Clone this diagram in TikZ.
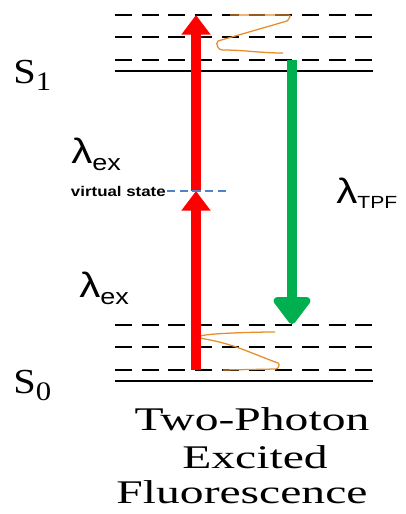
\documentclass[tikz,border=0pt]{standalone}
\usepackage{fontspec}
\setmainfont{Liberation Serif}
\newfontfamily\titlefont[FakeStretch=1.44]{Liberation Serif}
\newfontfamily\levelfont[FakeStretch=1.15]{Liberation Serif}
\newfontfamily\lamfont[FakeStretch=1.2]{Liberation Sans}
\usetikzlibrary{arrows.meta}

\begin{document}
\begin{tikzpicture}[x=0.025cm, y=-0.025cm,
    level/.style={line width=2pt, dash pattern=on 12pt off 7pt},
    ground/.style={line width=2pt},
    wave/.style={draw=wavecol, line width=0.9pt},
    pump/.style={draw=pumpcol, line width=7.1pt, -{Triangle[width=20pt,length=14pt]}},
    emit/.style={draw=emitcol, line width=7.1pt, -{Triangle[width=30pt,length=21pt,round]}}]

    % Definindo cores
    \definecolor{pumpcol}{RGB}{255, 0, 0}     % Vermelho das setas de excitacao
    \definecolor{emitcol}{RGB}{0, 176, 80}    % Verde da fluorescencia
    \definecolor{wavecol}{RGB}{230, 140, 40}  % Laranja da relaxacao
    \definecolor{virtcol}{RGB}{80, 130, 200}  % Azul do estado virtual

    \useasboundingbox (0,0) rectangle (406,514);

    % 1. Niveis de S1 (tracejados e linha cheia)
    \draw[level] (115,15) -- (373,15);
    \draw[level] (115,37) -- (373,37);
    \draw[level] (115,60) -- (373,60);
    \draw[ground] (115,71) -- (373,71);

    % 2. Niveis de S0
    \draw[level] (115,325) -- (373,325);
    \draw[level] (115,347) -- (373,347);
    \draw[level] (115,370) -- (373,370);
    \draw[ground] (115,381) -- (373,381);

    % 3. Relaxacao vibracional (linhas laranja)
    \draw[wave] (230,15) -- (289,15) to[out=0,in=40] (287,21)
        -- (218,41) to[out=220,in=180] (222,50)
        to[out=0,in=180] (283,53);
    \draw[wave] (275,332) to[out=180,in=170] (205,339)
        to[out=-10,in=160] (278,363) to[out=-20,in=0] (276,369) -- (223,370);

    % 4. Pontos das setas
    \coordinate (groundS0) at (196,370);
    \coordinate (virtual) at (196,191);
    \coordinate (topS1) at (196,15);
    \coordinate (lowS1) at (292,60);
    \coordinate (topS0) at (292,324);

    % 5. Setas de excitacao e emissao
    \draw[pump] (groundS0) -- (virtual);
    \draw[pump] (virtual) -- (topS1);
    \draw[emit] (lowS1) -- (topS0);

    % 6. Estado virtual
    \coordinate (vsleft) at (167,191);
    \coordinate (vsright) at (230,191);
    \draw[virtcol, line width=1pt, dash pattern=on 6pt off 3pt] (vsleft) -- (vsright);
    \node[anchor=base east, inner sep=0pt, font=\lamfont\bfseries\fontsize{10}{10}\selectfont]
        (vslabel) at (166,196) {virtual state};

    % 7. Rotulos dos estados
    \node[anchor=base west, inner sep=0pt, font=\levelfont\fontsize{25}{25}\selectfont]
        (s1) at (13,83) {S\raisebox{-5pt}{\fontsize{19}{19}\selectfont 1}};
    \node[anchor=base west, inner sep=0pt, font=\levelfont\fontsize{25}{25}\selectfont]
        (s0) at (13,393) {S\raisebox{-5pt}{\fontsize{19}{19}\selectfont 0}};

    % 8. Comprimentos de onda
    \node[anchor=base west, inner sep=0pt, font=\lamfont\fontsize{25}{25}\selectfont]
        (lamup) at (71,163) {λ\raisebox{-5pt}{\fontsize{16}{16}\selectfont ex}};
    \node[anchor=base west, inner sep=0pt, font=\lamfont\fontsize{25}{25}\selectfont]
        (lamlow) at (79,297) {λ\raisebox{-5pt}{\fontsize{16}{16}\selectfont ex}};
    \node[anchor=base west, inner sep=0pt, font=\lamfont\fontsize{25}{25}\selectfont]
        (lamtpf) at (336,203) {λ\raisebox{-4pt}{\fontsize{12.5}{12.5}\selectfont TPF}};

    % 9. Titulo
    \node[anchor=base, inner sep=0pt, font=\titlefont\fontsize{23.5}{23.5}\selectfont]
        (title1) at (252,430) {Two-Photon};
    \node[anchor=base, inner sep=0pt, font=\titlefont\fontsize{23.5}{23.5}\selectfont]
        (title2) at (255,468) {Excited};
    \node[anchor=base, inner sep=0pt, font=\titlefont\fontsize{23.5}{23.5}\selectfont]
        (title3) at (242,503) {Fluorescence};

\end{tikzpicture}
\end{document}
